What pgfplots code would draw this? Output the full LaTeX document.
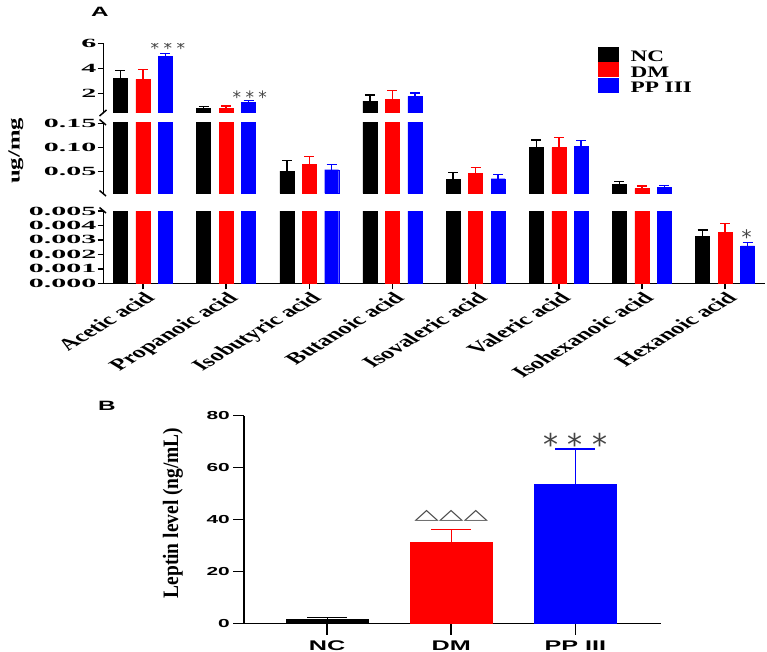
\documentclass[border=0pt]{standalone}
\usepackage{fontspec}
\usepackage{pgfplots}
\usepackage{pgfplotstable}
\pgfplotsset{compat=1.18}
\setmainfont{Liberation Serif}
\newfontfamily\serifwide[FakeStretch=1.45]{Liberation Serif}
\newfontfamily\serifxwide[FakeStretch=2.4]{Liberation Serif}
\newfontfamily\serifnarrow[FakeStretch=0.885]{Liberation Serif}
\newfontfamily\sanswide[FakeStretch=1.8]{Liberation Sans}
\newfontfamily\symfont{DejaVu Sans}

\definecolor{dmred}{RGB}{255,0,0}
\definecolor{ppblue}{RGB}{0,0,255}
\definecolor{stargray}{RGB}{70,70,70}

% short-chain fatty acids (ug/mg): bar positions, mean and upper SD for NC, DM, PP III
\pgfplotstableread{
xn    xd xp   nc      ncerr   dm      dmerr   pp      pperr
-0.27 0  0.27 3.20    0.61    3.12    0.80    4.93    0.27
0.73  1  1.27 0.80    0.13    0.80    0.18    1.25    0.16
1.73  2  2.27 0.0514  0.0213  0.0653  0.0165  0.0541  0.0112
2.73  3  3.27 1.38    0.48    1.52    0.69    1.76    0.26
3.73  4  4.27 0.0343  0.0137  0.0467  0.0124  0.0355  0.0091
4.73  5  5.27 0.0996  0.0159  0.0996  0.0214  0.1017  0.0132
5.73  6  6.27 0.0240  0.0053  0.0157  0.0048  0.0170  0.0041
6.73  7  7.27 0.00327 0.00040 0.00353 0.00062 0.00258 0.00023
}\acids

\pgfplotsset{
  segA/.style={
    scale only axis, width=661.5pt,
    xmin=-0.474, xmax=7.48,
    axis y line*=left,
    axis line style={-, line width=1.6pt},
    tick align=outside, major tick length=6pt,
    tick style={line width=1.5pt, black},
    scaled y ticks=false,
    yticklabel style={font=\serifxwide\bfseries\fontsize{12.5}{12.5}\selectfont, inner sep=1pt},
    clip marker paths=true,
    error bars/y dir=plus, error bars/y explicit,
    error bars/error bar style={line width=1.5pt},
    error bars/error mark options={rotate=90, mark size=5pt, line width=1.5pt},
  },
  acidbar/.style={ybar, bar width=14pt, bar shift=0pt, forget plot},
}

\newcommand{\acidbars}{%
  \addplot[acidbar, color=black, fill=black]
    table[x=xn, y=nc, y error=ncerr] {\acids};
  \addplot[acidbar, color=dmred, fill=dmred]
    table[x=xd, y=dm, y error=dmerr] {\acids};
  \addplot[acidbar, color=ppblue, fill=ppblue]
    table[x=xp, y=pp, y error=pperr] {\acids};
}

\begin{document}
\begin{tikzpicture}
\path[use as bounding box] (0pt,0pt) rectangle (767pt,-652pt);

% ---------------- panel A: upper segment ----------------
\begin{axis}[segA, at={(103.5pt,-113pt)}, anchor=south west, height=69.7pt,
  ymin=0.424, ymax=6, ytick={2,4,6}, yticklabels={2,4,6},
  axis x line=none, restrict y to domain=0.424:100,
  legend cell align=left,
  legend style={at={(0.7475,0.947)}, anchor=north west, draw=none, fill=none,
    inner sep=0pt, row sep=-1pt,
    font=\serifwide\bfseries\fontsize{16}{16}\selectfont,
    nodes={inner sep=0pt}}]
\acidbars
\addlegendimage{legend image code/.code={\fill[black] (0pt,-4pt) rectangle (20pt,10pt); \path (32pt,0pt);}}
\addlegendentry{NC}
\addlegendimage{legend image code/.code={\fill[dmred] (0pt,-4pt) rectangle (20pt,10pt); \path (32pt,0pt);}}
\addlegendentry{DM}
\addlegendimage{legend image code/.code={\fill[ppblue] (0pt,-4pt) rectangle (20pt,10pt); \path (32pt,0pt);}}
\addlegendentry{PP III}
\node[anchor=base, text=stargray, font=\symfont\fontsize{17}{17}\selectfont]
  at (axis cs:0.30,5.13) {*\hspace{0.26em}*\hspace{0.26em}*};
\node[anchor=base, text=stargray, font=\symfont\fontsize{17}{17}\selectfont]
  at (axis cs:1.285,1.21) {*\hspace{0.26em}*\hspace{0.26em}*};
\end{axis}

% ---------------- panel A: middle segment ----------------
\begin{axis}[segA, at={(103.5pt,-193.3pt)}, anchor=south west, height=70.6pt,
  ymin=0.0054, ymax=0.1512, ytick={0.05,0.10,0.15}, yticklabels={0.05,0.10,0.15},
  axis x line=none, restrict y to domain=0.0054:100]
\acidbars
\end{axis}

% ---------------- panel A: lower segment ----------------
\begin{axis}[segA, at={(103.5pt,-283.3pt)}, anchor=south west, height=72.3pt,
  ymin=0, ymax=0.005,
  ytick={0,0.001,0.002,0.003,0.004,0.005},
  yticklabels={0.000,0.001,0.002,0.003,0.004,0.005},
  axis x line*=bottom, restrict y to domain*=0:0.006,
  xtick={0,1,2,3,4,5,6,7},
  xticklabels={Acetic acid,Propanoic acid,Isobutyric acid,Butanoic acid,Isovaleric acid,Valeric acid,Isohexanoic acid,Hexanoic acid},
  xticklabel style={xscale=1.65, rotate=45, anchor=north east, inner sep=1pt,
    font=\bfseries\fontsize{16}{16}\selectfont}]
\acidbars
\node[anchor=base, text=stargray, font=\symfont\fontsize{20}{20}\selectfont]
  at (axis cs:7.26,0.0027) {*};
\end{axis}

% axis break marks
\begin{scope}[line width=1.5pt]
  \draw (99.5pt,-116pt) -- (106.5pt,-110pt);
  \draw (99.5pt,-119.5pt) -- (106pt,-125pt);
  \draw (99.5pt,-190.5pt) -- (106pt,-196pt);
  \draw (99.5pt,-207.5pt) -- (106pt,-213pt);
\end{scope}

\node[rotate=90, font=\serifwide\bfseries\fontsize{17}{17}\selectfont] at (16pt,-151pt) {ug/mg};
\node[font=\sanswide\bfseries\fontsize{13.5}{13.5}\selectfont] at (100pt,-11.5pt) {A};

% ---------------- panel B: leptin ----------------
\begin{axis}[scale only axis, at={(244pt,-623.5pt)}, anchor=south west,
  width=417pt, height=208pt,
  xmin=-0.67, xmax=2.69, ymin=0, ymax=80,
  axis x line*=bottom, axis y line*=left,
  axis line style={-, line width=1.6pt},
  xtick={0,1,2}, xticklabels={NC,DM,PP III},
  ytick={0,20,40,60,80}, yticklabels={0,20,40,60,80},
  tick align=outside, major tick length=11pt,
  tick style={line width=1.6pt, black},
  xticklabel style={font=\sanswide\bfseries\fontsize{14}{14}\selectfont, inner sep=6pt},
  yticklabel style={font=\sanswide\bfseries\fontsize{11.6}{11.6}\selectfont, inner sep=3pt},
  error bars/y dir=plus, error bars/y explicit,
  error bars/error bar style={line width=1.2pt},
  error bars/error mark options={rotate=90, mark size=20pt, line width=1.2pt}]
\addplot[ybar, bar width=82pt, color=black, fill=black] coordinates {(0,1.8) +- (0,0.6)};
\addplot[ybar, bar width=82pt, color=dmred, fill=dmred] coordinates {(1,31.1) +- (0,5.2)};
\addplot[ybar, bar width=82pt, color=ppblue, fill=ppblue] coordinates {(2,53.7) +- (0,13.4)};
\node[anchor=base, text=stargray, font=\symfont\fontsize{30}{30}\selectfont]
  at (axis cs:2,64.7) {*\hspace{0.32em}*\hspace{0.32em}*};
\node[anchor=center, text=stargray]
  at (axis cs:1,41.5) {\scalebox{1}[0.45]{\symfont\fontsize{32}{32}\selectfont △△△}};
\end{axis}

\node[rotate=90, font=\serifnarrow\bfseries\fontsize{22}{22}\selectfont] at (173pt,-513pt) {Leptin level (ng/mL)};
\node[font=\sanswide\bfseries\fontsize{13.5}{13.5}\selectfont] at (107pt,-406pt) {B};
\end{tikzpicture}
\end{document}
